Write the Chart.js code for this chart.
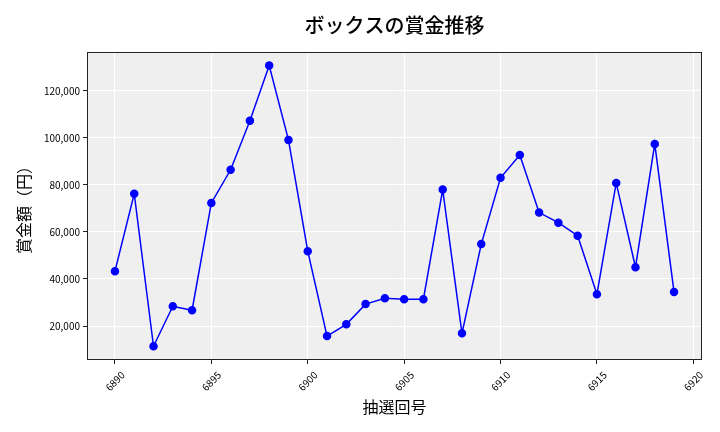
<!DOCTYPE html>
<html>
<head>
<meta charset="utf-8">
<script src="https://cdn.jsdelivr.net/npm/chart.js@4"></script>
<style>
  html, body { margin: 0; padding: 0; background: #fff; }
  #wrap { width: 720px; height: 432px; }
</style>
</head>
<body>
<div id="wrap"><canvas id="chart"></canvas></div>
<script>
// data
const draws = [6890, 6891, 6892, 6893, 6894, 6895, 6896, 6897, 6898, 6899,
  6900, 6901, 6902, 6903, 6904, 6905, 6906, 6907, 6908, 6909,
  6910, 6911, 6912, 6913, 6914, 6915, 6916, 6917, 6918, 6919]
const prizes = [43300, 76200, 11400, 28400, 26700, 72300, 86400, 107200, 130700, 99100,
  51800, 15700, 20700, 29300, 31800, 31400, 31400, 78000, 16900, 54800,
  83000, 92700, 68200, 63900, 58400, 33500, 80800, 45000, 97400, 34400]
const xTicks = [6890, 6895, 6900, 6905, 6910, 6915, 6920]
const yTicks = [20000, 40000, 60000, 80000, 100000, 120000]

const FONT = "'Noto Sans CJK JP', 'Noto Sans', sans-serif"

// gray plot area + dark frame, like the original
const plotFrame = {
  id: 'plotFrame',
  beforeDraw (chart) {
    const {ctx, chartArea: a} = chart
    ctx.save()
    ctx.fillStyle = '#efefef'
    ctx.fillRect(a.left, a.top, a.right - a.left, a.bottom - a.top)
    ctx.restore()
  },
  afterDraw (chart) {
    const {ctx, chartArea: a} = chart
    ctx.save()
    ctx.strokeStyle = '#222'
    ctx.lineWidth = 1
    ctx.strokeRect(a.left + 0.5, a.top + 0.5, a.right - a.left - 1, a.bottom - a.top - 1)
    ctx.restore()
  }
}

new Chart(document.getElementById('chart'), {
  type: 'line',
  data: {
    datasets: [{
      data: draws.map((d, i) => ({x: d, y: prizes[i]})),
      borderColor: '#0000ff',
      backgroundColor: '#0000ff',
      borderWidth: 1.5,
      pointRadius: 3.5,
      pointHoverRadius: 3.5,
      tension: 0
    }]
  },
  options: {
    responsive: true,
    maintainAspectRatio: false,
    animation: false,
    layout: { padding: { left: 0, right: 18, top: 0, bottom: 0 } },
    plugins: {
      legend: { display: false },
      tooltip: { enabled: false },
      title: {
        display: true,
        text: 'ボックスの賞金推移',
        fullSize: false,
        color: '#000',
        font: { family: FONT, size: 20, weight: 500 },
        padding: { top: 13, bottom: 15 }
      }
    },
    scales: {
      x: {
        type: 'linear',
        min: 6888.55,
        max: 6920.45,
        afterBuildTicks: s => { s.ticks = xTicks.map(v => ({value: v})) },
        afterFit: s => { s.height = 72 },
        grid: { color: '#fff', lineWidth: 1, tickColor: '#222', tickLength: 4 },
        border: { display: false },
        ticks: {
          color: '#000',
          font: { family: FONT, size: 10 },
          minRotation: 45,
          maxRotation: 45,
          padding: 5,
          labelOffset: 8,
          callback: v => String(v)
        },
        title: {
          display: true,
          text: '抽選回号',
          color: '#000',
          font: { family: FONT, size: 16 },
          padding: { top: 0, bottom: 15 }
        }
      },
      y: {
        min: 5550,
        max: 136450,
        afterBuildTicks: s => { s.ticks = yTicks.map(v => ({value: v})) },
        afterFit: s => { s.width = 87 },
        grid: { color: '#fff', lineWidth: 1, tickColor: '#222', tickLength: 4 },
        border: { display: false },
        ticks: {
          color: '#000',
          font: { family: FONT, size: 10 },
          padding: 3,
          callback: v => v.toLocaleString('en-US')
        },
        title: {
          display: true,
          text: '賞金額（円）',
          color: '#000',
          font: { family: FONT, size: 16 },
          padding: { top: 14, bottom: 0 }
        }
      }
    }
  },
  plugins: [plotFrame]
})
</script>
</body>
</html>
